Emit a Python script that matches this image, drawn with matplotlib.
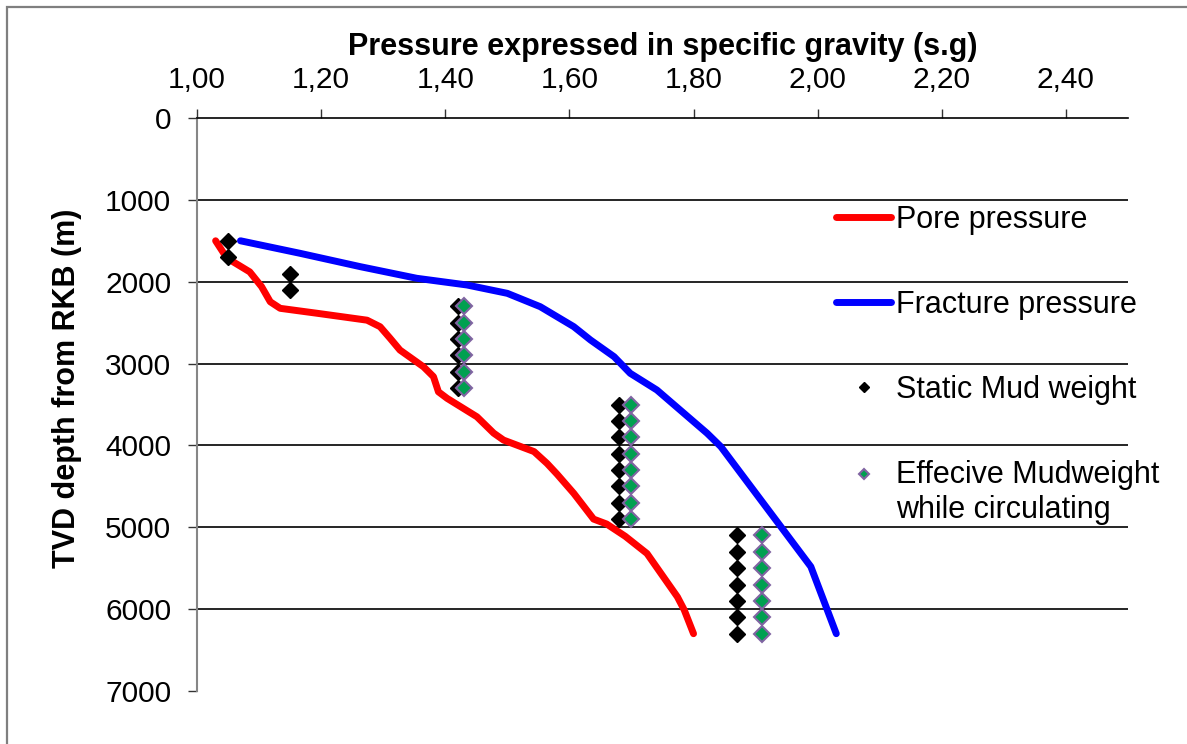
import matplotlib
matplotlib.use('Agg')
import matplotlib.pyplot as plt
from matplotlib.patches import Rectangle
from matplotlib.legend_handler import HandlerLine2D
from matplotlib.transforms import Affine2D

plt.rcParams['font.family'] = ['Liberation Sans', 'DejaVu Sans']

# --- data ---
pore_sg = [1.03, 1.048, 1.085, 1.104, 1.118, 1.134, 1.193, 1.274, 1.295, 1.311, 1.327,
           1.365, 1.381, 1.389, 1.403, 1.451, 1.478, 1.494, 1.543, 1.564, 1.58, 1.607,
           1.639, 1.66, 1.69, 1.725, 1.774, 1.785, 1.80]
pore_depth = [1500, 1710, 1880, 2060, 2245, 2325, 2385, 2470, 2550, 2690, 2835,
              3040, 3160, 3345, 3425, 3650, 3850, 3935, 4075, 4220, 4350, 4585,
              4900, 4960, 5110, 5320, 5850, 6010, 6300]

frac_sg = [1.07, 1.166, 1.263, 1.354, 1.435, 1.50, 1.553, 1.607, 1.634, 1.672,
           1.698, 1.741, 1.822, 1.844, 1.989, 2.03]
frac_depth = [1500, 1653, 1816, 1958, 2040, 2142, 2305, 2549, 2712, 2916,
              3119, 3323, 3852, 4015, 5481, 6300]

static_sg = [1.05, 1.05, 1.15, 1.15,
             1.42, 1.42, 1.42, 1.42, 1.42, 1.42,
             1.68, 1.68, 1.68, 1.68, 1.68, 1.68, 1.68, 1.68,
             1.87, 1.87, 1.87, 1.87, 1.87, 1.87, 1.87]
static_depth = [1500, 1700, 1900, 2100,
                2300, 2500, 2700, 2900, 3100, 3300,
                3500, 3700, 3900, 4100, 4300, 4500, 4700, 4900,
                5100, 5300, 5500, 5700, 5900, 6100, 6300]

eff_sg = [1.43, 1.43, 1.43, 1.43, 1.43, 1.43,
          1.70, 1.70, 1.70, 1.70, 1.70, 1.70, 1.70, 1.70,
          1.91, 1.91, 1.91, 1.91, 1.91, 1.91, 1.91]
eff_depth = [2300, 2500, 2700, 2900, 3100, 3300,
             3500, 3700, 3900, 4100, 4300, 4500, 4700, 4900,
             5100, 5300, 5500, 5700, 5900, 6100, 6300]

x_ticks = [1.00, 1.20, 1.40, 1.60, 1.80, 2.00, 2.20, 2.40]
x_tick_labels = ['1,00', '1,20', '1,40', '1,60', '1,80', '2,00', '2,20', '2,40']
y_ticks = [0, 1000, 2000, 3000, 4000, 5000, 6000, 7000]


class FirstLineHandler(HandlerLine2D):
    """Legend handle lifted to sit next to the first line of a 2-line label."""
    def __init__(self, dy, **kw):
        super().__init__(**kw)
        self.dy = dy

    def create_artists(self, legend, orig_handle, xdescent, ydescent, width,
                       height, fontsize, trans):
        artists = super().create_artists(legend, orig_handle, xdescent, ydescent,
                                         width, height, fontsize, trans)
        shifted = Affine2D().translate(0, self.dy) + trans
        for a in artists:
            a.set_transform(shifted)
        return artists


# --- figure ---
W, H = 1187, 744
fig = plt.figure(figsize=(W / 100, H / 100), dpi=100)
ax = fig.add_axes([197 / W, 1 - 691 / H, (1128 - 197) / W, (691 - 118) / H])

# outer chart-area border (right/bottom edges fall outside the image)
fig.patches.append(Rectangle((7 / W, -0.05), 1.1, 1.05 - 7 / H,
                             transform=fig.transFigure, fill=False,
                             edgecolor='#7f7f7f', linewidth=1.6))

ax.plot(pore_sg, pore_depth, color='#ff0000', linewidth=5, solid_capstyle='round',
        solid_joinstyle='round', label='Pore pressure', zorder=3)
ax.plot(frac_sg, frac_depth, color='#0000ff', linewidth=5, solid_capstyle='round',
        solid_joinstyle='round', label='Fracture pressure', zorder=3)
ax.plot(static_sg, static_depth, linestyle='none', marker='D', markersize=8.3,
        color='black', label='Static Mud weight', zorder=4)
eff_line, = ax.plot(eff_sg, eff_depth, linestyle='none', marker='D', markersize=7.8,
                    markerfacecolor='#00a050', markeredgecolor='#8064a2',
                    markeredgewidth=1.5, label='Effecive Mudweight\nwhile circulating',
                    zorder=5)

ax.set_xlim(1.0, 2.5)
ax.set_ylim(7000, 0)

ax.xaxis.tick_top()
ax.xaxis.set_label_position('top')
ax.set_xticks(x_ticks)
ax.set_xticklabels(x_tick_labels)
ax.set_yticks(y_ticks)

ax.tick_params(axis='x', direction='out', length=6.5, width=1, color='#333333',
               pad=11, labelsize=21.5)
ax.tick_params(axis='y', direction='out', length=6.5, width=1, color='#333333',
               pad=12, labelsize=21.5)

ax.yaxis.grid(True, color='black', linewidth=1.2)
ax.get_ygridlines()[-1].set_visible(False)
ax.get_ygridlines()[0].set_visible(False)
ax.set_axisbelow(True)

for side in ['right', 'bottom']:
    ax.spines[side].set_visible(False)
ax.spines['top'].set_color('black')
ax.spines['top'].set_linewidth(1.2)
ax.spines['left'].set_color('#868686')
ax.spines['left'].set_linewidth(1.5)

ax.set_xlabel('Pressure expressed in specific gravity (s.g)', fontsize=22,
              fontweight='bold', labelpad=8)
ax.set_ylabel('TVD depth from RKB (m)', fontsize=22, fontweight='bold')
ax.yaxis.set_label_coords(-0.124, 0.529)

leg = ax.legend(loc='upper left', bbox_to_anchor=(836 / W, 1 - 205 / H),
                bbox_transform=fig.transFigure, frameon=False, fontsize=22,
                handlelength=1.8, handletextpad=0.15, labelspacing=1.8,
                borderpad=0, borderaxespad=0,
                handler_map={eff_line: FirstLineHandler(14)})
for h in leg.legend_handles[2:]:
    h.set_markersize(5)

fig.savefig('out.png', dpi=100)
